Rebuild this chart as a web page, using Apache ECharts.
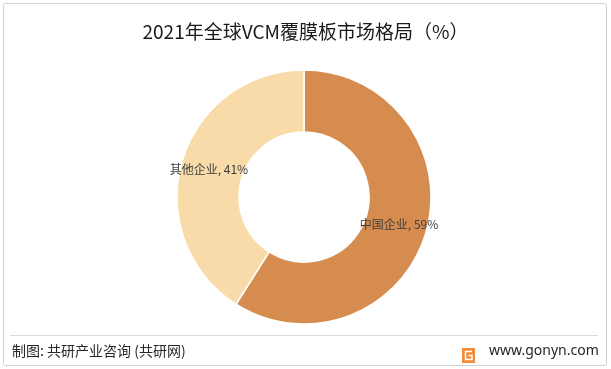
<!DOCTYPE html>
<html>
<head>
<meta charset="utf-8">
<script src="https://cdn.jsdelivr.net/npm/echarts@6/dist/echarts.min.js"></script>
<style>
html,body{margin:0;padding:0;background:#fff;}
#chart{width:611px;height:369px;}
</style>
</head>
<body>
<div id="chart"></div>
<script>
const titleText = '2021年全球VCM覆膜板市场格局（%）';
const categories = ['中国企业', '其他企业'];
const values = [59, 41];
const colors = ['#D58C4E', '#F8DBA8'];
const sourceText = '制图: 共研产业咨询 (共研网)';
const siteText = 'www.gonyn.com';

const chart = echarts.init(document.getElementById('chart'));
const data = categories.map((c, i) => ({ name: c, value: values[i], itemStyle: { color: colors[i] } }));

chart.setOption({
  animation: false,
  title: {
    text: titleText,
    left: 'center',
    top: 17,
    textStyle: { fontFamily: 'Noto Sans CJK SC', fontSize: 19, fontWeight: 'normal', color: '#1a1a1a' }
  },
  series: [{
    type: 'pie',
    center: [304, 197],
    radius: [65, 127],
    startAngle: 90,
    clockwise: true,
    data: data,
    itemStyle: { borderColor: '#fff', borderWidth: 1.5 },
    label: {
      show: true,
      position: 'inside',
      formatter: '{b}, {c}%',
      fontFamily: 'Noto Sans CJK SC',
      fontSize: 12,
      color: '#404040'
    },
    labelLine: { show: false },
    emphasis: { disabled: true }
  }],
  graphic: [
    { type: 'rect', shape: { x: 3.5, y: 3.5, width: 603, height: 362, r: 2 }, style: { fill: 'none', stroke: '#d0d0d0', lineWidth: 1 }, silent: true },
    { type: 'line', shape: { x1: 10, y1: 335.5, x2: 598, y2: 335.5 }, style: { stroke: '#d9d9d9', lineWidth: 1 }, silent: true },
    { type: 'text', left: 12, top: 344, style: { text: sourceText, font: '14px "Noto Sans CJK SC"', fill: '#262626' } },
    { type: 'rect', shape: { x: 462, y: 348, width: 13, height: 15 }, style: { fill: '#F28C3A' } },
    { type: 'polyline', shape: { points: [[472, 351.5], [465.5, 351.5], [465.5, 359.5], [472, 359.5], [472, 355.5], [468.5, 355.5]] }, style: { stroke: '#fff', lineWidth: 1.5, fill: 'none' } },
    { type: 'text', left: 489, top: 344, style: { text: siteText, font: '14px "Noto Sans"', fill: '#262626' } }
  ]
});
</script>
</body>
</html>
